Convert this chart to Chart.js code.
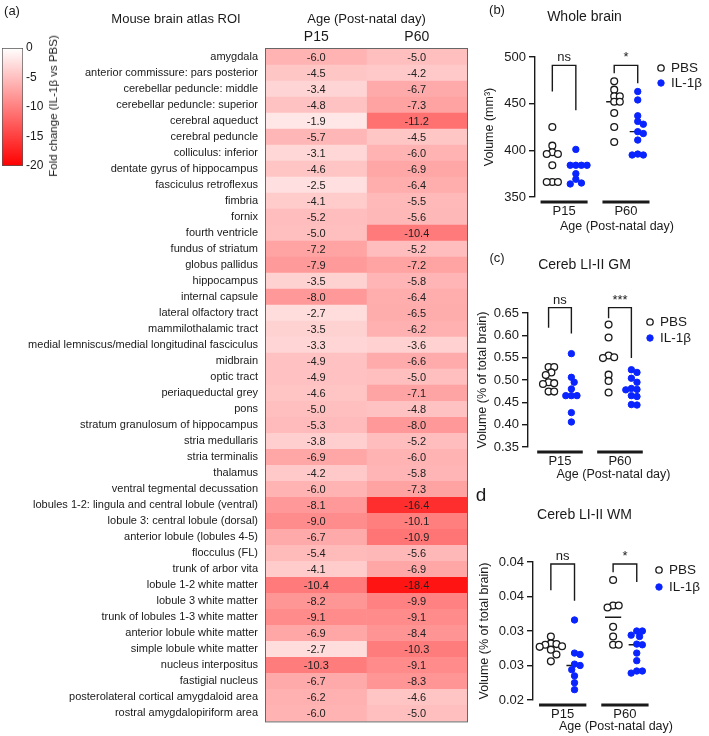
<!DOCTYPE html>
<html>
<head>
<meta charset="utf-8">
<script src="https://cdn.jsdelivr.net/npm/chart.js@4.4.0/dist/chart.umd.min.js"></script>
<style>
  body { margin: 0; background: #fff; font-family: "Liberation Sans", Arial, sans-serif; }
  #wrap { position: relative; width: 709px; height: 736px; overflow: hidden; }
  canvas { position: absolute; }
  .t { position: absolute; color: #1a1a1a; white-space: nowrap; transform: translate(-50%, -50%); }
</style>
</head>
<body>
<div id="wrap">
  <canvas id="heat" style="left:0;top:0" width="470" height="736"></canvas>
  <canvas id="cbar" style="left:0;top:0" width="70" height="180"></canvas>
  <canvas id="pb" style="left:470px;top:0" width="239" height="240"></canvas>
  <canvas id="pc" style="left:470px;top:240px" width="239" height="250"></canvas>
  <canvas id="pd" style="left:470px;top:480px" width="239" height="256"></canvas>

  <div class="t" style="left:12px;top:10px;font-size:13px">(a)</div>
  <div class="t" style="left:176px;top:18px;font-size:13px">Mouse brain atlas ROI</div>
  <div class="t" style="left:53px;top:106px;font-size:11.5px;transform:translate(-50%,-50%) rotate(-90deg)">Fold change (IL-1β vs PBS)</div>
  <div class="t" style="left:497px;top:9px;font-size:13px">(b)</div>
  <div class="t" style="left:497px;top:257px;font-size:13px">(c)</div>
  <div class="t" style="left:481px;top:495px;font-size:19px">d</div>
</div>
<script>
// ---- heatmap data ----
const regions = [
  'amygdala', 'anterior commissure: pars posterior', 'cerebellar peduncle: middle',
  'cerebellar peduncle: superior', 'cerebral aqueduct', 'cerebral peduncle',
  'colliculus: inferior', 'dentate gyrus of hippocampus', 'fasciculus retroflexus',
  'fimbria', 'fornix', 'fourth ventricle', 'fundus of striatum', 'globus pallidus',
  'hippocampus', 'internal capsule', 'lateral olfactory tract', 'mammilothalamic tract',
  'medial lemniscus/medial longitudinal fasciculus', 'midbrain', 'optic tract',
  'periaqueductal grey', 'pons', 'stratum granulosum of hippocampus', 'stria medullaris',
  'stria terminalis', 'thalamus', 'ventral tegmental decussation',
  'lobules 1-2: lingula and central lobule (ventral)', 'lobule 3: central lobule (dorsal)',
  'anterior lobule (lobules 4-5)', 'flocculus (FL)', 'trunk of arbor vita',
  'lobule 1-2 white matter', 'lobule 3 white matter', 'trunk of lobules 1-3 white matter',
  'anterior lobule white matter', 'simple lobule white matter', 'nucleus interpositus',
  'fastigial nucleus', 'posterolateral cortical amygdaloid area', 'rostral amygdalopiriform area'
];
const foldP15 = [-6.0, -4.5, -3.4, -4.8, -1.9, -5.7, -3.1, -4.6, -2.5, -4.1, -5.2, -5.0, -7.2, -7.9,
  -3.5, -8.0, -2.7, -3.5, -3.3, -4.9, -4.9, -4.6, -5.0, -5.3, -3.8, -6.9, -4.2, -6.0,
  -8.1, -9.0, -6.7, -5.4, -4.1, -10.4, -8.2, -9.1, -6.9, -2.7, -10.3, -6.7, -6.2, -6.0];
const foldP60 = [-5.0, -4.2, -6.7, -7.3, -11.2, -4.5, -6.0, -6.9, -6.4, -5.5, -5.6, -10.4, -5.2, -7.2,
  -5.8, -6.4, -6.5, -6.2, -3.6, -6.6, -5.0, -7.1, -4.8, -8.0, -5.2, -6.0, -5.8, -7.3,
  -16.4, -10.1, -10.9, -5.6, -6.9, -18.4, -9.9, -9.1, -8.4, -10.3, -9.1, -8.3, -4.6, -5.0];
const ageLabels = ['P15', 'P60'];
const cbarTicks = [0, -5, -10, -15, -20];

// ---- scatter data ----
const wholePbsP15 = [425, 405, 398, 396, 396, 384, 366, 366, 366];
const wholeIlP15 = [401, 384, 384, 384, 384, 375, 369, 365, 364];
const wholePbsP60 = [474, 465, 458, 458, 452, 452, 440, 425, 409];
const wholeIlP60 = [463, 454, 437, 431, 428, 420, 418, 411, 396, 395, 395];
const wholeTicks = [350, 400, 450, 500];
const wholeTickLabels = ['350', '400', '450', '500'];

const gmPbsP15 = [0.529, 0.529, 0.517, 0.511, 0.495, 0.493, 0.491, 0.474, 0.474];
const gmIlP15 = [0.559, 0.506, 0.495, 0.480, 0.465, 0.465, 0.465, 0.427, 0.406];
const gmPbsP60 = [0.624, 0.595, 0.555, 0.551, 0.549, 0.512, 0.498, 0.472];
const gmIlP60 = [0.523, 0.517, 0.504, 0.495, 0.481, 0.479, 0.478, 0.465, 0.463, 0.445, 0.444];
const gmTicks = [0.35, 0.40, 0.45, 0.50, 0.55, 0.60, 0.65];
const gmTickLabels = ['0.35', '0.40', '0.45', '0.50', '0.55', '0.60', '0.65'];

const wmPbsP15 = [0.0292, 0.0282, 0.0281, 0.0280, 0.0278, 0.0277, 0.0273, 0.0266, 0.0256];
const wmIlP15 = [0.0316, 0.0268, 0.0266, 0.0252, 0.0250, 0.0244, 0.0235, 0.0225, 0.0215];
const wmPbsP60 = [0.0374, 0.0337, 0.0337, 0.0334, 0.0306, 0.0292, 0.0280, 0.0280];
const wmIlP60 = [0.0300, 0.0300, 0.0294, 0.0292, 0.0281, 0.0280, 0.0268, 0.0257, 0.0242, 0.0242, 0.0239];
const wmTicks = [0.020, 0.025, 0.030, 0.035, 0.040];
const wmTickLabels = ['0.02', '0.03', '0.03', '0.04', '0.04'];

// brackets: [top, left leg end, right leg end] per age group
const wholeBrackets = [[491, 463, 443], [491, 482.5, 472]];
const gmBrackets = [[0.662, 0.617, 0.604], [0.662, 0.638, 0.549]];
const wmBrackets = [[0.0397, 0.0359, 0.0344], [0.0397, 0.0385, 0.0371]];
const wholeSig = ['ns', '*'];
const gmSig = ['ns', '***'];
const wmSig = ['ns', '*'];

const INK = '#1a1a1a';
const BLUE = '#0a24ff';
Chart.defaults.font.family = '"Liberation Sans", Arial, sans-serif';
Chart.defaults.color = INK;

function heatColor(v) {
  const t = Math.min(1, Math.max(0, -v / 20));
  const g = Math.round(255 * (1 - t));
  return `rgb(255,${g},${g})`;
}

// ---- heatmap ----
const cellText = {
  id: 'cellText',
  afterDatasetsDraw(chart) {
    const ctx = chart.ctx;
    ctx.save();
    ctx.font = '11px "Liberation Sans", Arial';
    ctx.fillStyle = '#222';
    ctx.textAlign = 'center';
    ctx.textBaseline = 'middle';
    chart.data.datasets.forEach((ds, di) => {
      chart.getDatasetMeta(di).data.forEach((bar, i) => {
        ctx.fillText(ds.values[i].toFixed(1), (bar.x + bar.base) / 2, bar.y + 0.5);
      });
    });
    const a = chart.chartArea;
    ctx.strokeStyle = '#666';
    ctx.lineWidth = 1;
    ctx.strokeRect(a.left - 0.5, a.top - 0.5, a.right - a.left + 1, a.bottom - a.top + 1);
    ctx.restore();
  }
};

new Chart(document.getElementById('heat'), {
  type: 'bar',
  data: {
    labels: regions,
    datasets: [foldP15, foldP60].map((vals, k) => ({
      label: ageLabels[k],
      values: vals,
      data: vals.map(() => [k, k + 1]),
      backgroundColor: vals.map(heatColor),
      borderWidth: 0,
      grouped: false,
      barPercentage: 1,
      categoryPercentage: 1
    }))
  },
  options: {
    indexAxis: 'y',
    responsive: false,
    animation: false,
    layout: { padding: { right: 3, bottom: 3 } },
    plugins: { legend: { display: false }, tooltip: { enabled: false } },
    scales: {
      x: {
        position: 'top', type: 'linear', min: 0, max: 2,
        grid: { display: false, drawTicks: false }, border: { display: false },
        afterBuildTicks: s => { s.ticks = [{ value: 0.5 }, { value: 1.5 }]; },
        ticks: { callback: (v, i) => ageLabels[i], font: { size: 14 }, padding: 3, color: INK },
        title: { display: true, text: 'Age (Post-natal day)', font: { size: 13 }, padding: { top: 12, bottom: 0 }, color: INK },
        afterFit: s => { s.height = 49; }
      },
      y: {
        grid: { display: false, drawTicks: false }, border: { display: false },
        ticks: { autoSkip: false, font: { size: 11 }, padding: 8, color: INK },
        afterFit: s => { s.width = 266; }
      }
    }
  },
  plugins: [cellText]
});

// ---- colour bar ----
new Chart(document.getElementById('cbar'), {
  type: 'bar',
  data: {
    labels: [''],
    datasets: [{
      data: [[cbarTicks[cbarTicks.length - 1], cbarTicks[0]]],
      backgroundColor: c => {
        const a = c.chart.chartArea;
        if (!a) return heatColor(-10);
        const g = c.chart.ctx.createLinearGradient(0, a.top, 0, a.bottom);
        g.addColorStop(0, heatColor(cbarTicks[0]));
        g.addColorStop(1, heatColor(cbarTicks[cbarTicks.length - 1]));
        return g;
      },
      borderColor: '#555', borderWidth: 1, borderSkipped: false,
      barPercentage: 1, categoryPercentage: 1
    }]
  },
  options: {
    responsive: false,
    animation: false,
    layout: { padding: { left: 2, top: 48, bottom: 14 } },
    plugins: { legend: { display: false }, tooltip: { enabled: false } },
    scales: {
      x: { display: false },
      y: {
        position: 'right', min: -20, max: 0,
        afterBuildTicks: s => { s.ticks = cbarTicks.map(v => ({ value: v })); },
        ticks: { font: { size: 12 }, padding: 3, color: INK },
        grid: { display: false, drawTicks: false }, border: { display: false },
        afterFit: s => { s.width = 47; }
      }
    }
  }
});

// ---- scatter panels ----
function median(arr) {
  const s = [...arr].sort((a, b) => a - b);
  const m = Math.floor(s.length / 2);
  return s.length % 2 ? s[m] : (s[m - 1] + s[m]) / 2;
}

// simple beeswarm so overlapping points spread sideways
function swarm(values, center, pxX, pxY) {
  const placed = [];
  const idx = values.map((v, i) => i).sort((a, b) => values[b] - values[a]);
  idx.forEach(i => {
    const y = values[i];
    for (let k = 0; k < 40; k++) {
      const offPx = k === 0 ? 0 : (k % 2 ? 1 : -1) * Math.ceil(k / 2) * 2.8;
      const hit = placed.some(p => Math.hypot(p.px - offPx, (p.y - y) * pxY) < 5.6);
      if (!hit) { placed.push({ px: offPx, y }); break; }
    }
  });
  return placed.map(p => ({ x: center + p.px / pxX, y: p.y }));
}

const groupCenters = [1, 2];
const pbsOff = -0.19, ilOff = 0.19;

function makePanel(id, c) {
  const pxY = c.areaH / (c.ymax - c.ymin);
  const pbsPts = [], ilPts = [], medPts = [], brPts = [];
  c.pbs.forEach((vals, g) => pbsPts.push(...swarm(vals, groupCenters[g] + pbsOff, c.pxX, pxY)));
  c.il.forEach((vals, g) => ilPts.push(...swarm(vals, groupCenters[g] + ilOff, c.pxX, pxY)));
  [[c.pbs, pbsOff], [c.il, ilOff]].forEach(([sets, off]) => {
    sets.forEach((vals, g) => {
      const m = median(vals), x = groupCenters[g] + off;
      medPts.push({ x: x - 0.13, y: m }, { x: x + 0.13, y: m }, { x: x, y: null });
    });
  });
  c.brackets.forEach((b, g) => {
    const x1 = groupCenters[g] + pbsOff, x2 = groupCenters[g] + ilOff;
    brPts.push({ x: x1, y: b[1] }, { x: x1, y: b[0] }, { x: x2, y: b[0] }, { x: x2, y: b[2] }, { x: x1, y: null });
  });

  const extras = {
    id: 'extras',
    afterDraw(chart) {
      const ctx = chart.ctx, xs = chart.scales.x, ys = chart.scales.y, a = chart.chartArea;
      ctx.save();
      // group bars under the axis
      ctx.strokeStyle = INK; ctx.lineWidth = 3;
      groupCenters.forEach(g => {
        ctx.beginPath();
        ctx.moveTo(xs.getPixelForValue(g - 0.38), a.bottom + 5);
        ctx.lineTo(xs.getPixelForValue(g + 0.38), a.bottom + 5);
        ctx.stroke();
      });
      // significance labels
      ctx.fillStyle = INK; ctx.font = '13px "Liberation Sans", Arial';
      ctx.textAlign = 'center'; ctx.textBaseline = 'bottom';
      c.brackets.forEach((b, g) => {
        ctx.fillText(c.sig[g], xs.getPixelForValue(groupCenters[g]), ys.getPixelForValue(b[0]) - 1);
      });
      // legend
      ctx.textAlign = 'left'; ctx.textBaseline = 'middle'; ctx.font = '13.5px "Liberation Sans", Arial';
      [0, 1].forEach(i => {
        const ds = chart.data.datasets[i], y = c.legY[i];
        ctx.beginPath();
        ctx.arc(c.legX, y, 3.2, 0, Math.PI * 2);
        ctx.fillStyle = ds.backgroundColor; ctx.fill();
        ctx.lineWidth = ds.borderWidth; ctx.strokeStyle = ds.borderColor; ctx.stroke();
        ctx.fillStyle = INK;
        ctx.fillText(ds.label, c.legX + 10, y);
      });
      ctx.restore();
    }
  };

  new Chart(document.getElementById(id), {
    type: 'scatter',
    data: {
      datasets: [
        { label: 'PBS', data: pbsPts, backgroundColor: '#fff', borderColor: INK, borderWidth: 1.3, pointRadius: 3.4, order: 0 },
        { label: 'IL-1β', data: ilPts, backgroundColor: BLUE, borderColor: BLUE, borderWidth: 1, pointRadius: 3.2, order: 0 },
        { label: 'median', data: medPts, showLine: true, spanGaps: false, pointRadius: 0, borderColor: INK, borderWidth: 1.4, order: 1 },
        { label: 'bracket', data: brPts, showLine: true, spanGaps: false, pointRadius: 0, borderColor: INK, borderWidth: 1.4, clip: false, order: 1 }
      ]
    },
    options: {
      responsive: false,
      animation: false,
      layout: { padding: { right: 10 } },
      plugins: {
        legend: { display: false },
        tooltip: { enabled: false },
        title: { display: true, text: c.title, font: { size: 14, weight: 'normal' }, color: INK, padding: { top: c.titlePad[0], bottom: c.titlePad[1] } }
      },
      scales: {
        x: {
          type: 'linear', min: c.xmin, max: c.xmax,
          grid: { display: false, drawTicks: false }, border: { display: false },
          afterBuildTicks: s => { s.ticks = groupCenters.map(v => ({ value: v })); },
          ticks: { callback: (v, i) => ageLabels[i], font: { size: 13 }, padding: 7, color: INK },
          title: { display: true, text: 'Age (Post-natal day)', font: { size: 12.5 }, color: INK, padding: { top: 0, bottom: c.xTitlePad } },
          afterFit: s => { s.height = c.xh; }
        },
        y: {
          min: c.ymin, max: c.ymax,
          afterBuildTicks: s => { s.ticks = c.ticks.map(v => ({ value: v })); },
          ticks: { callback: (v, i) => c.tickLabels[i], font: { size: 13 }, padding: 3, color: INK },
          grid: { drawOnChartArea: false, drawTicks: true, tickLength: 6, color: INK, lineWidth: 1.4 },
          border: { color: INK, width: 1.4 },
          title: { display: true, text: c.ytitle, font: { size: 12.5 }, color: INK, padding: { top: c.yTitlePad, bottom: 0 } },
          afterFit: s => { s.width = c.yw; }
        }
      }
    },
    plugins: [extras]
  });
}

makePanel('pb', {
  title: 'Whole brain', ytitle: 'Volume (mm³)',
  pbs: [wholePbsP15, wholePbsP60], il: [wholeIlP15, wholeIlP60],
  ticks: wholeTicks, tickLabels: wholeTickLabels, ymin: 350, ymax: 500,
  brackets: wholeBrackets, sig: wholeSig,
  xmin: 0.53, xmax: 3.18, pxX: 62, areaH: 140, yw: 65, xh: 43,
  titlePad: [8.6, 31.6], xTitlePad: 5.5, yTitlePad: 12.5,
  legX: 191, legY: [68, 83]
});
makePanel('pc', {
  title: 'Cereb LI-II GM', ytitle: 'Volume (% of total brain)',
  pbs: [gmPbsP15, gmPbsP60], il: [gmIlP15, gmIlP60],
  ticks: gmTicks, tickLabels: gmTickLabels, ymin: 0.35, ymax: 0.65,
  brackets: gmBrackets, sig: gmSig,
  xmin: 0.467, xmax: 3.317, pxX: 60, areaH: 134, yw: 58, xh: 43,
  titlePad: [16.6, 39.6], xTitlePad: 7.5, yTitlePad: 5.5,
  legX: 180, legY: [82, 98]
});
makePanel('pd', {
  title: 'Cereb LI-II WM', ytitle: 'Volume (% of total brain)',
  pbs: [wmPbsP15, wmPbsP60], il: [wmIlP15, wmIlP60],
  ticks: wmTicks, tickLabels: wmTickLabels, ymin: 0.02, ymax: 0.04,
  brackets: wmBrackets, sig: wmSig,
  xmin: 0.523, xmax: 3.19, pxX: 62.3, areaH: 138, yw: 63, xh: 36,
  titlePad: [26.6, 38.6], xTitlePad: 1.5, yTitlePad: 7.5,
  legX: 189, legY: [90, 107]
});
</script>
</body>
</html>
